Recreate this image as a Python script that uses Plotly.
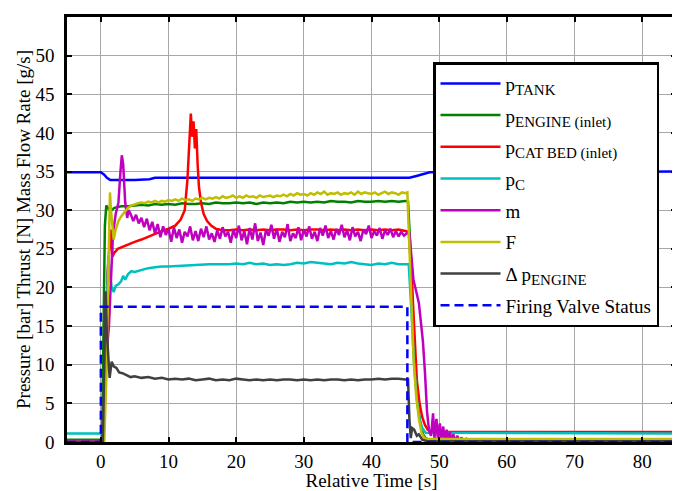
import plotly.graph_objects as go

# ---------------- data ----------------
# p_TANK
t_tank = [-5, 0, 0.5, 0.9, 1.4, 3, 5, 7.2, 8.0, 20, 30, 45.6, 46.5, 47.5, 48.6, 60, 70, 85]
v_tank = [34.9, 34.9, 34.6, 34.2, 33.9, 33.9, 33.9, 34.0, 34.2, 34.2, 34.2, 34.2, 34.4, 34.6, 34.9, 34.9, 34.9, 35.0]

# p_ENGINE (inlet)
t_eng_start = [-5, 0.2, 0.4, 0.6, 0.8, 1.2, 1.6, 2, 3, 4]
v_eng_start = [0.3, 0.3, 15, 28, 30.6, 30.1, 30.0, 30.3, 30.5, 30.5]
eng_steady_t0, eng_steady_dt = 5, 1.0
v_eng_steady = [30.6, 30.7, 30.6, 30.8, 30.7, 30.8, 30.7, 30.9, 30.8, 30.8, 30.9, 30.8, 31.0, 30.9,
                30.9, 31.0, 30.9, 31.0, 30.8, 31.0, 30.9, 31.0, 30.9, 31.1, 31.0, 31.1, 31.0, 31.1,
                31.0, 31.2, 31.1, 31.1, 31.0, 31.2, 31.1, 31.1, 31.2, 31.1, 31.2, 31.1, 31.2]
t_eng_end = [45.4, 45.7, 46.0, 46.4, 46.8, 47.2, 47.6, 48.0, 48.5, 85]
v_eng_end = [31.1, 26, 18, 10, 5, 2.5, 1.0, 0.5, 0.3, 0.3]

# p_CAT BED (inlet)
t_cat_start = [-5, 0.4, 0.7, 1.0, 1.3, 1.5, 1.7, 2.0, 2.5, 3, 4, 5, 6, 7, 8, 9, 10, 11, 11.8, 12.4,
               12.8, 13.1, 13.3, 13.5, 13.7, 13.9, 14.1, 14.3, 14.5, 14.8, 15.2, 15.7, 16.3, 17, 18]
v_cat_start = [0, 0, 12, 22, 25.5, 27.5, 24, 24.5, 25.0, 25.2, 25.6, 25.9, 26.2, 26.6, 27.0, 27.3, 27.6,
               28.0, 28.8, 30, 34, 40, 42.5, 39.5, 41.5, 38, 40.5, 36, 33, 31, 29.5, 28.6, 28.0, 27.6, 27.4]
cat_steady_t0, cat_steady_dt = 19, 1.0
v_cat_steady = [27.4, 27.5, 27.4, 27.5, 27.4, 27.5, 27.4, 27.5, 27.5, 27.4, 27.5, 27.4, 27.5, 27.5,
                27.4, 27.5, 27.4, 27.5, 27.4, 27.5, 27.4, 27.5, 27.4, 27.5, 27.4, 27.5, 27.3]
t_cat_end = [45.5, 45.9, 46.3, 46.7, 47.1, 47.5, 47.9, 48.3, 48.8, 85]
v_cat_end = [27.2, 22, 14, 8, 5, 3.2, 2.2, 1.6, 1.3, 1.3]

# p_C
t_pc_start = [-5, 0.3, 0.6, 0.9, 1.1, 1.3, 1.6, 1.9, 2.2, 2.6, 3.0, 3.3, 3.6, 4, 4.5, 5, 6, 7, 8, 9,
              10, 12, 14, 16, 18]
v_pc_start = [1.1, 1.1, 8, 18, 24, 22, 20, 19.4, 20.2, 20.4, 20.8, 21.5, 21.0, 21.7, 22.1, 22.0, 22.3,
              22.5, 22.6, 22.7, 22.7, 22.8, 22.9, 23.0, 23.0]
pc_steady_t0, pc_steady_dt = 19, 1.0
v_pc_steady = [23.0, 23.1, 23.0, 23.2, 23.0, 23.1, 22.9, 23.0, 22.9, 23.0, 23.2, 23.1, 23.3, 23.2,
               23.1, 23.0, 23.2, 23.1, 23.3, 23.1, 23.0, 22.9, 23.1, 23.0, 23.2, 23.0, 23.0]
t_pc_end = [45.5, 45.9, 46.3, 46.7, 47.1, 47.5, 48, 85]
v_pc_end = [23.0, 17, 10, 5.5, 3.0, 1.8, 1.2, 1.1]

# m (mass flow rate)
t_m_start = [-5, 0.3, 0.6, 0.9, 1.2, 1.5, 1.8, 2.2, 2.6, 2.9, 3.1, 3.3, 3.6, 3.9, 4.1]
v_m_start = [0.2, 0.2, 5, 12, 15, 22, 27, 29.5, 31, 35, 37.1, 36, 31, 29, 30]
m_steady_t0, m_steady_dt = 4.4, 0.4
v_m_steady = [29.5, 28.6, 29.4, 28.3, 29.0, 27.8, 28.9, 27.4, 28.5, 27.0, 28.2, 26.5, 27.9, 26.8,
              27.6, 25.9, 27.8, 26.4, 27.5, 25.8, 27.2, 26.6, 27.9, 26.1, 27.3, 26.0, 27.6, 26.5,
              27.9, 26.2, 27.0, 25.9, 27.4, 26.3, 27.8, 26.6, 27.2, 25.8, 27.5, 26.4, 28.0, 26.1,
              27.3, 25.6, 27.7, 26.2, 28.3, 26.0, 27.1, 25.5, 27.4, 26.7, 28.1, 26.3, 27.6, 25.9,
              27.2, 26.5, 28.2, 26.0, 27.0, 26.4, 27.8, 26.1, 27.5, 26.6, 27.9, 26.3, 27.2, 26.0,
              27.7, 26.7, 28.0, 26.4, 27.3, 26.2, 27.6, 26.8, 28.1, 26.5, 27.4, 26.1, 27.8, 26.6,
              27.2, 26.0, 27.5, 26.9, 28.0, 26.4, 27.3, 26.7, 27.7, 26.3, 27.4, 26.8, 27.6, 26.5,
              27.3, 26.6, 27.2, 26.7, 27.0]
t_m_end = [45.6, 45.9, 46.2, 46.6, 47.0, 47.3, 47.6, 47.9, 48.2, 48.5, 48.8, 49.1, 49.3, 49.6, 49.8,
           50.1, 50.3, 50.6, 50.8, 51.1, 51.3, 51.6, 51.8, 52.1, 52.3, 52.7, 52.9, 53.3, 53.5, 54,
           54.3, 55, 55.3, 56, 57, 85]
v_m_end = [27, 24, 21, 19.5, 18, 15.5, 13, 9, 4, 1.5, 0.8, 3.7, 0.5, 3.0, 0.4, 2.4, 0.3, 2.0, 0.2,
           1.6, 0.2, 1.3, 0.1, 1.0, 0.1, 0.8, 0.1, 0.6, 0.0, 0.4, 0.0, 0.3, 0.0, 0.2, 0.0, 0.0]

# F (thrust)
t_f_start = [-5, 0.5, 0.8, 1.0, 1.2, 1.35, 1.5, 1.7, 1.9, 2.2, 2.6, 3.0, 3.5, 4.0, 4.5, 5]
v_f_start = [0, 0, 8, 18, 28, 32.3, 30, 27.5, 26.2, 27.5, 28.6, 29.2, 29.8, 30.3, 30.6, 30.8]
f_steady_t0, f_steady_dt = 5.5, 0.5
v_f_steady = [30.9, 31.0, 30.9, 31.1, 31.0, 31.2, 31.0, 31.2, 31.1, 31.3,
              31.2, 31.4, 31.2, 31.5, 31.3, 31.4, 31.2, 31.5, 31.4, 31.6,
              31.4, 31.6, 31.5, 31.7, 31.5, 31.8, 31.6, 31.7, 31.9, 31.6,
              31.8, 31.6, 31.9, 31.7, 31.8, 31.6, 31.9, 31.7, 31.8, 31.9,
              31.7, 31.9, 31.8, 32.0, 31.8, 32.1, 31.9, 32.2, 32.0, 32.1,
              31.9, 32.2, 32.0, 32.3, 32.1, 32.4, 32.0, 32.2, 32.1, 32.3,
              32.0, 32.2, 32.1, 32.3, 32.0, 32.4, 32.1, 32.3, 32.2, 32.1,
              32.3, 32.0, 32.2, 32.4, 32.1, 32.3, 32.2, 32.0, 32.3, 32.2]
t_f_end = [45.3, 45.6, 45.9, 46.2, 46.6, 47.0, 47.4, 47.8, 48.5, 85]
v_f_end = [32.3, 25, 17, 11, 6, 3, 1.2, 0.5, 0.4, 0.4]

# delta p_ENGINE
t_dp_start = [-5, 0.3, 0.5, 0.7, 0.9, 1.1, 1.3, 1.6, 1.9, 2.3, 2.7, 3.2, 3.8, 4.4, 5, 6, 7, 8, 9, 10]
v_dp_start = [0, 0, 10, 19.5, 14, 10.5, 8.3, 10.4, 9.8, 9.6, 9.0, 8.9, 8.7, 8.4, 8.5, 8.3, 8.4, 8.2, 8.3, 8.1]
dp_steady_t0, dp_steady_dt = 11, 1.0
v_dp_steady = [8.2, 8.1, 8.2, 8.0, 8.1, 8.2, 8.0, 8.1, 8.0, 8.2, 8.1, 8.0, 8.1, 8.0, 8.1, 8.0, 8.1,
               8.1, 8.0, 8.1, 8.0, 8.1, 8.0, 8.1, 8.1, 8.0, 8.1, 8.0, 8.1, 8.1, 8.2, 8.1, 8.2, 8.2, 8.1]
t_dp_end = [45.4, 45.6, 45.8, 46.0, 46.3, 46.7, 47.0, 47.5, 48.2, 85]
v_dp_end = [8.1, 3, 0.5, 1.8, 1.6, 0.8, 1.0, 0.3, 0.1, 0.1]

# Firing valve status
t_valve = [-5, 0, 0, 45.3, 45.3, 85]
v_valve = [0, 0, 17.5, 17.5, 0, 0]

x_ticks = [0, 10, 20, 30, 40, 50, 60, 70, 80]
y_ticks = [0, 5, 10, 15, 20, 25, 30, 35, 40, 45, 50, 55]


def build(t_start, v_start, t0, dt, v_steady, t_end, v_end):
    t_mid = [round(t0 + dt * i, 2) for i in range(len(v_steady))]
    return list(t_start) + t_mid + list(t_end), list(v_start) + list(v_steady) + list(v_end)


FONT = "Liberation Serif"
LW = 2.5


def sub(main, s):
    return f"{main}<sub><span style='font-size:15px'>{s}</span></sub>"


series = [
    (sub("p", "TANK"), (t_tank, v_tank), "#0000ff", "solid"),
    (sub("p", "ENGINE (inlet)"), build(t_eng_start, v_eng_start, eng_steady_t0, eng_steady_dt,
                                       v_eng_steady, t_eng_end, v_eng_end), "#008000", "solid"),
    (sub("p", "CAT BED (inlet)"), build(t_cat_start, v_cat_start, cat_steady_t0, cat_steady_dt,
                                        v_cat_steady, t_cat_end, v_cat_end), "#ff0000", "solid"),
    (sub("p", "C"), build(t_pc_start, v_pc_start, pc_steady_t0, pc_steady_dt, v_pc_steady,
                          t_pc_end, v_pc_end), "#00bfbf", "solid"),
    ("m", build(t_m_start, v_m_start, m_steady_t0, m_steady_dt, v_m_steady, t_m_end, v_m_end),
     "#bf00bf", "solid"),
    ("F", build(t_f_start, v_f_start, f_steady_t0, f_steady_dt, v_f_steady, t_f_end, v_f_end),
     "#bfbf00", "solid"),
    ("Δ " + sub("p", "ENGINE"), build(t_dp_start, v_dp_start, dp_steady_t0, dp_steady_dt,
                                      v_dp_steady, t_dp_end, v_dp_end), "#404040", "solid"),
    ("Firing Valve Status", (t_valve, v_valve), "#0000ff", "9px,5px"),
]

fig = go.Figure()
for i, (name, (tx, vy), color, dash) in enumerate(series):
    fig.add_trace(go.Scatter(
        x=tx, y=vy, mode="lines", name=name, legendgroup=f"g{i}",
        line=dict(color=color, width=LW, dash=dash),
    ))

axis_common = dict(
    showline=True, linecolor="black", linewidth=2.5, mirror="ticks",
    ticks="inside", ticklen=5, tickwidth=2, tickcolor="black",
    showgrid=True, gridcolor="#a8a8a8", gridwidth=1, zeroline=False,
    automargin=False,
    tickfont=dict(family=FONT, size=19, color="black"),
)

# The page body adds an 8 px offset, so the figure is sized to the visible area.
fig.update_layout(
    width=672, height=483, autosize=False,
    paper_bgcolor="white", plot_bgcolor="white",
    margin=dict(l=59, r=4, t=9, b=49),
    font=dict(family=FONT, size=19, color="black"),
    xaxis=dict(range=[-5, 85], tickvals=x_ticks, ticklabelstandoff=0,
               title=dict(text="Relative Time [s]", standoff=2,
                          font=dict(family=FONT, size=19)),
               **axis_common),
    yaxis=dict(range=[0, 55], tickvals=y_ticks, ticklabelstandoff=6,
               title=dict(text="Pressure [bar] Thrust [N] Mass Flow Rate [g/s]", standoff=0,
                          font=dict(family=FONT, size=19)),
               **axis_common),
    legend=dict(x=0.601, y=0.894, xanchor="left", yanchor="top",
                bgcolor="white", bordercolor="black", borderwidth=2.5,
                font=dict(family=FONT, size=19, color="black"),
                tracegroupgap=4, itemwidth=60),
    showlegend=True,
)

fig.write_html("out.html")
